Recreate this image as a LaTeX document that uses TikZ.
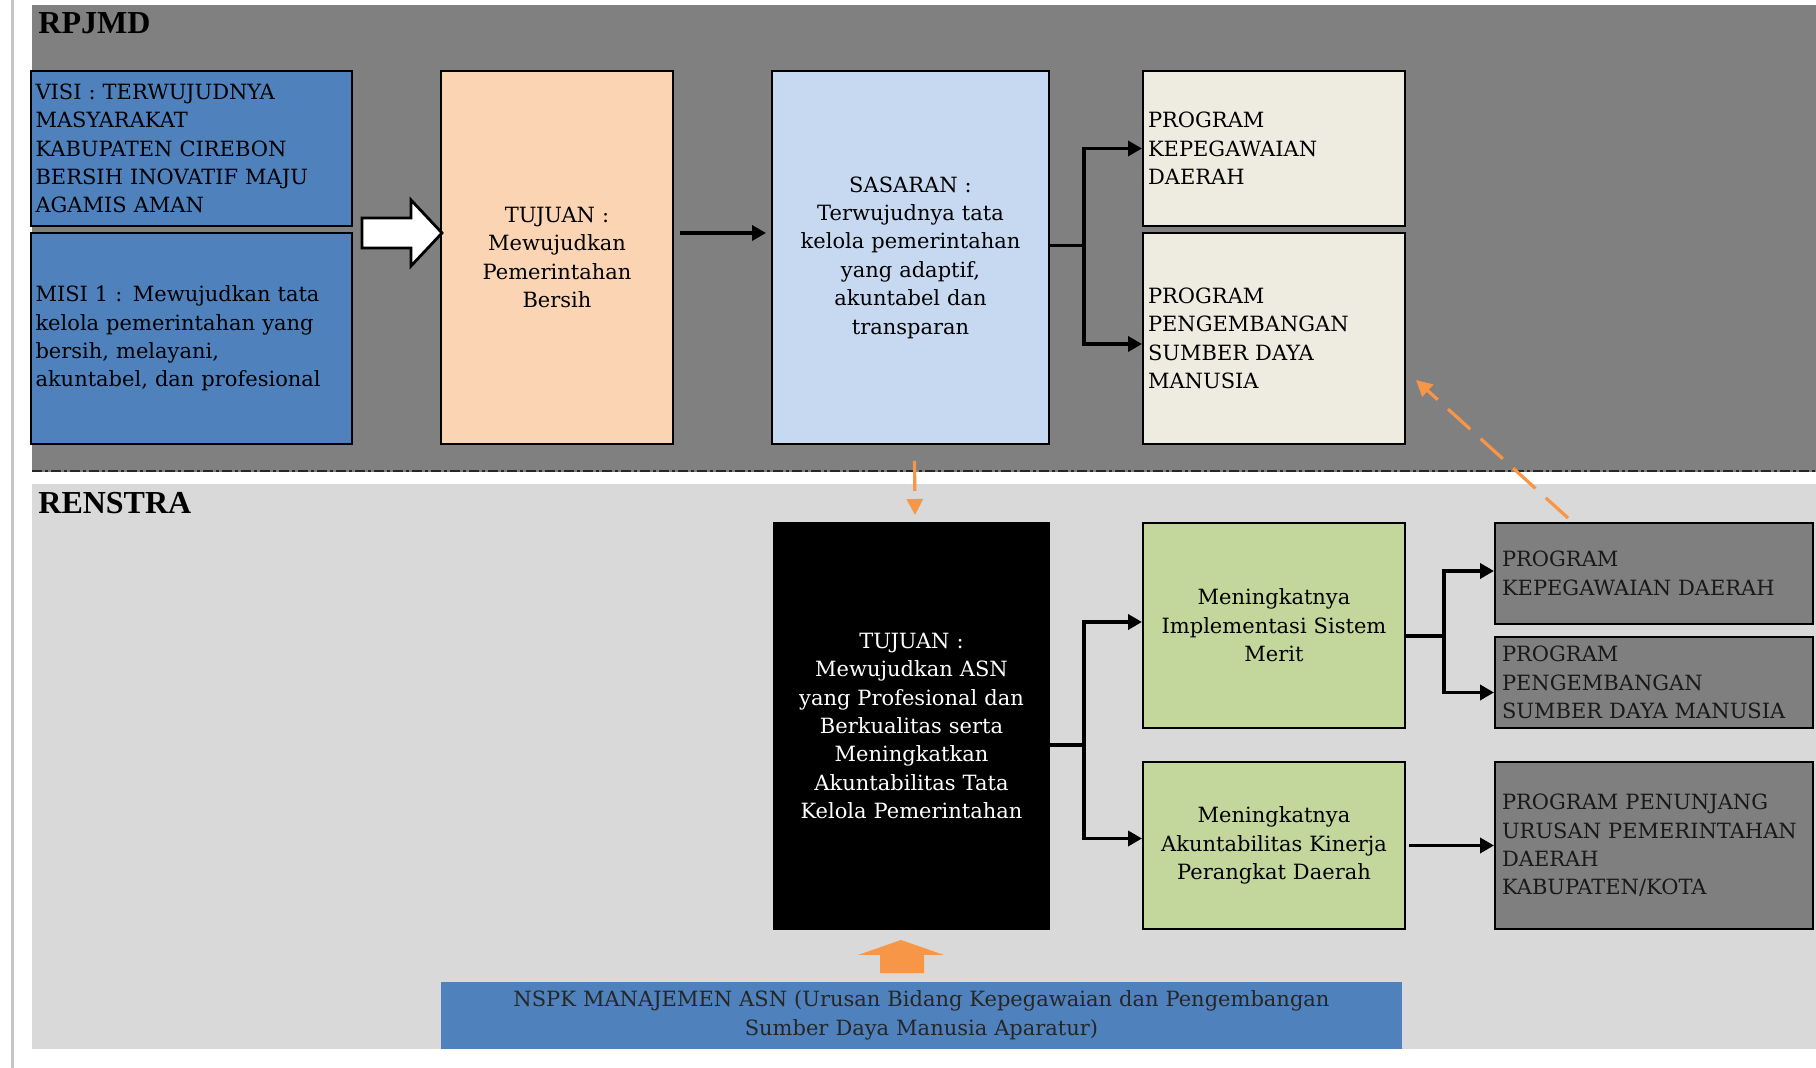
\documentclass[tikz,border=0pt]{standalone}
\usepackage{fontspec}
\setmainfont{DejaVu Serif}
\newfontfamily\titlefont{Liberation Serif}
\usetikzlibrary{arrows.meta}
\definecolor{rpbg}{HTML}{808080}
\definecolor{rsbg}{HTML}{D9D9D9}
\definecolor{cblue}{HTML}{4F81BD}
\definecolor{cpeach}{HTML}{FBD4B4}
\definecolor{clblue}{HTML}{C6D9F1}
\definecolor{ccream}{HTML}{EEECE1}
\definecolor{cgreen}{HTML}{C3D69B}
\definecolor{cgray}{HTML}{7F7F7F}
\definecolor{corange}{HTML}{F79646}
\begin{document}
\begin{tikzpicture}[x=0.5pt,y=-0.5pt,
  box/.style={draw=black, line width=1pt, inner xsep=2pt, inner ysep=0pt,
    font=\fontsize{10.5}{14.2}\selectfont},
  lbox/.style={box, align=left},
  cbox/.style={box, align=center},
  gbox/.style={box, fill=cgray, align=left, inner xsep=3pt, text=black!90,
    minimum width=159pt, text width=152pt},
  arr/.style={line width=1.8pt, -{Triangle[length=7pt,width=7.5pt]}},
  odash/.style={draw=corange, line width=1.6pt, dash pattern=on 15pt off 7pt,
    -{Triangle[length=8pt,width=8pt]}},
  ttl/.style={anchor=west, inner sep=0pt, font=\titlefont\bfseries\fontsize{16}{16}\selectfont}
]
\useasboundingbox (0,0) rectangle (1816,1068);
\fill[white] (0,0) rectangle (1816,1068);
\draw[gray!45, line width=1.5pt] (12,0) -- (12,1068);
% regions
\fill[rpbg] (32,5) rectangle (1816,472);
\fill[rsbg] (32,484) rectangle (1816,1049);
\draw[black!85, line width=1.1pt, dash pattern=on 5pt off 1.5pt on 1.5pt off 1.5pt] (32,471) -- (1816,471);
\node[ttl] (trp) at (38,23) {RPJMD};
\node[ttl] (trs) at (38,503) {RENSTRA};

% RPJMD boxes
\node[lbox, fill=cblue, minimum width=160.5pt, minimum height=77.5pt, text width=156pt] (visi) at (191.5,148.5)
 {VISI : TERWUJUDNYA\\MASYARAKAT\\KABUPATEN CIREBON\\BERSIH INOVATIF MAJU\\AGAMIS AMAN};
\node[lbox, fill=cblue, minimum width=160.5pt, minimum height=105.5pt, text width=156pt] (misi) at (191.5,338.5)
 {MISI 1 : Mewujudkan tata\\kelola pemerintahan yang\\bersih, melayani,\\akuntabel, dan profesional};
\node[cbox, fill=cpeach, minimum width=116pt, minimum height=186.5pt, text width=110pt] (tuj1) at (557,257.5)
 {TUJUAN :\\Mewujudkan\\Pemerintahan\\Bersih};
\node[cbox, fill=clblue, minimum width=138.5pt, minimum height=186.5pt, text width=134pt] (sas) at (910.5,257.5)
 {SASARAN :\\Terwujudnya tata\\kelola pemerintahan\\yang adaptif,\\akuntabel dan\\transparan};
\node[lbox, fill=ccream, minimum width=131pt, minimum height=77.5pt, text width=126pt] (pkd1) at (1274,148.5)
 {PROGRAM\\KEPEGAWAIAN\\DAERAH};
\node[lbox, fill=ccream, minimum width=131pt, minimum height=105.5pt, text width=126pt] (psd1) at (1274,338.5)
 {PROGRAM\\PENGEMBANGAN\\SUMBER DAYA\\MANUSIA};

% white block arrow
\filldraw[fill=white, draw=black, line width=1.4pt]
 (362,218) -- (411,218) -- (411,200) -- (442,233) -- (411,266) -- (411,248) -- (362,248) -- cycle;

% RENSTRA boxes
\node[cbox, fill=black, text=white, minimum width=137.5pt, minimum height=203pt, text width=133pt] (tuj2) at (911.5,726)
 {TUJUAN :\\Mewujudkan ASN\\yang Profesional dan\\Berkualitas serta\\Meningkatkan\\Akuntabilitas Tata\\Kelola Pemerintahan};
\node[cbox, fill=cgreen, minimum width=131pt, minimum height=102.5pt, text width=127pt] (gr1) at (1274,625.5)
 {Meningkatnya\\Implementasi Sistem\\Merit};
\node[cbox, fill=cgreen, minimum width=131pt, minimum height=83.5pt, text width=127pt] (gr2) at (1274,845.5)
 {Meningkatnya\\Akuntabilitas Kinerja\\Perangkat Daerah};
\node[gbox, minimum height=50.5pt] (gA) at (1654,573.5)
 {PROGRAM\\KEPEGAWAIAN DAERAH};
\node[gbox, minimum height=45.5pt] (gB) at (1654,682.5)
 {PROGRAM\\PENGEMBANGAN\\SUMBER DAYA MANUSIA};
\node[gbox, minimum height=83.5pt] (gC) at (1654,845.5)
 {PROGRAM PENUNJANG\\URUSAN PEMERINTAHAN\\DAERAH\\KABUPATEN/KOTA};
\node[cbox, fill=cblue, draw=none, text=black!85, minimum width=480.5pt, minimum height=33.5pt, text width=476pt] (nspk) at (921.5,1015.5)
 {NSPK MANAJEMEN ASN (Urusan Bidang Kepegawaian dan Pengembangan\\Sumber Daya Manusia Aparatur)};

% orange block arrow up
\fill[corange] (901,940) -- (944,955) -- (924,955) -- (924,973) -- (880,973) -- (880,955) -- (858,955) -- cycle;

% connectors
\draw[arr, shorten <=3pt, shorten >=2.5pt] ([yshift=12.25pt]tuj1.east) -- ([yshift=12.25pt]sas.west);
\draw[arr] ([yshift=6pt]sas.east) -- ++(34,0) coordinate (sj) |- (pkd1.west);
\draw[arr] (sj) |- ([yshift=-2.75pt]psd1.west);
\draw[arr] ([yshift=-9.5pt]tuj2.east) -- ++(34,0) coordinate (tj) |- ([yshift=1.75pt]gr1.west);
\draw[arr] (tj) |- ([yshift=3.5pt]gr2.west);
\draw[arr] ([yshift=-5.25pt]gr1.east) -- ++(38,0) coordinate (gj) |- ([yshift=1.25pt]gA.west);
\draw[arr] (gj) |- ([yshift=-5pt]gB.west);
\draw[arr, shorten <=1.5pt] (gr2.east) -- (gC.west);
\draw[odash] ([xshift=37pt,yshift=2pt]gA.north west) -- ([shift={(5pt,-20.75pt)}]psd1.east);
\draw[odash] ([xshift=2pt,yshift=-8pt]sas.south) -- ([xshift=1.75pt,yshift=3.5pt]tuj2.north);
\end{tikzpicture}
\end{document}
